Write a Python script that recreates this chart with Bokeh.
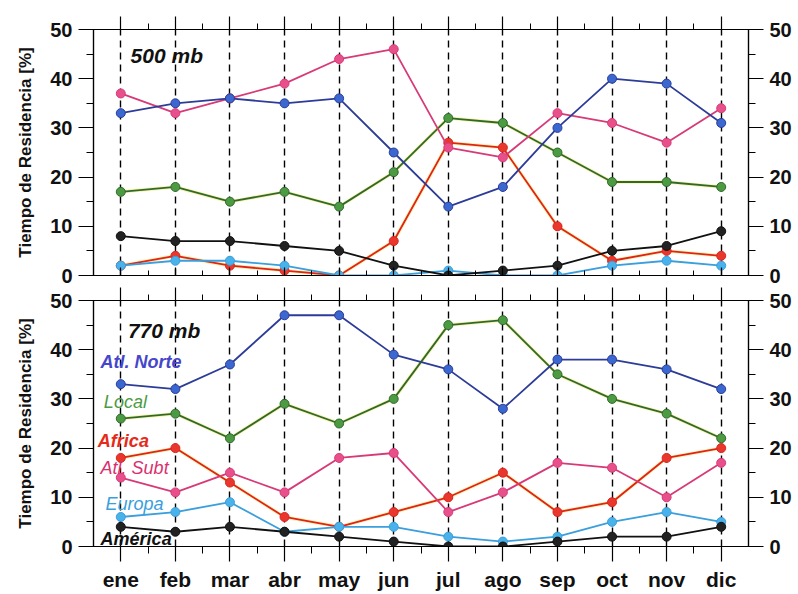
from bokeh.plotting import figure
from bokeh.layouts import column
from bokeh.models import Range1d, FixedTicker, LinearAxis, ColumnDataSource
from bokeh.core.properties import value
from bokeh.embed import file_html
from bokeh.resources import INLINE

# ---------------- data ----------------
months = ["ene", "feb", "mar", "abr", "may", "jun", "jul", "ago", "sep", "oct", "nov", "dic"]
series_names = ["Atl. Norte", "Local", "Africa", "Atl. Subt", "Europa", "América"]

# 500 mb
atl_norte_500 = [33, 35, 36, 35, 36, 25, 14, 18, 30, 40, 39, 31]
local_500     = [17, 18, 15, 17, 14, 21, 32, 31, 25, 19, 19, 18]
africa_500    = [2, 4, 2, 1, 0, 7, 27, 26, 10, 3, 5, 4]
atl_subt_500  = [37, 33, 36, 39, 44, 46, 26, 24, 33, 31, 27, 34]
europa_500    = [2, 3, 3, 2, 0, 0, 1, 0, 0, 2, 3, 2]
america_500   = [8, 7, 7, 6, 5, 2, 0, 1, 2, 5, 6, 9]

# 770 mb
atl_norte_770 = [33, 32, 37, 47, 47, 39, 36, 28, 38, 38, 36, 32]
local_770     = [26, 27, 22, 29, 25, 30, 45, 46, 35, 30, 27, 22]
africa_770    = [18, 20, 13, 6, 4, 7, 10, 15, 7, 9, 18, 20]
atl_subt_770  = [14, 11, 15, 11, 18, 19, 7, 11, 17, 16, 10, 17]
europa_770    = [6, 7, 9, 3, 4, 4, 2, 1, 2, 5, 7, 5]
america_770   = [4, 3, 4, 3, 2, 1, 0, 0, 1, 2, 2, 4]

y_ticks = [0, 10, 20, 30, 40, 50]

# ---------------- styles ----------------
line_colors = {"Atl. Norte": "#2c3c98", "Local": "#2f6a2c", "Africa": "#e0221a",
               "Atl. Subt": "#d83a78", "Europa": "#3a9fdc", "América": "#111111"}
mark_colors = {"Atl. Norte": "#3a68d0", "Local": "#4c9a42", "Africa": "#e8382e",
               "Atl. Subt": "#e8508c", "Europa": "#4ab2ea", "América": "#222222"}
halo = {"Local", "Africa"}
draw_order = ["Local", "Africa", "Atl. Subt", "Europa", "América", "Atl. Norte"]

label_colors = {"Atl. Norte": "#4646cc", "Local": "#4c9a42", "Africa": "#e62a1a",
                "Atl. Subt": "#d8306e", "Europa": "#3a9fdc", "América": "#111111"}
label_x = [-0.37, -0.31, -0.42, -0.37, -0.28, -0.37]
label_y = [37.4, 29.3, 21.5, 15.9, 8.7, 1.6]
label_style = ["bold italic", "italic", "bold italic", "italic", "italic", "bold italic"]

FONT = "Liberation Sans"
x = list(range(len(months)))


def style_xaxis(ax, labels):
    ax.ticker = FixedTicker(ticks=x, minor_ticks=[i + 0.5 for i in range(11)])
    ax.axis_line_color = "black"
    ax.axis_line_width = 1.2
    ax.major_tick_line_color = "black"
    ax.minor_tick_line_color = "black"
    ax.major_tick_line_width = 1.2
    if labels:
        ax.major_label_overrides = {i: m for i, m in enumerate(months)}
        ax.major_label_text_font = FONT
        ax.major_label_text_font_style = "bold"
        ax.major_label_text_font_size = "21px"
        ax.major_label_text_color = "#111111"
        ax.major_label_standoff = 6
    else:
        ax.major_label_text_color = None
        ax.major_label_standoff = 0


def style_yaxis(ax):
    ax.ticker = FixedTicker(ticks=y_ticks, minor_ticks=[5, 15, 25, 35, 45])
    ax.axis_line_color = "black"
    ax.axis_line_width = 1.2
    ax.major_tick_in = 0
    ax.major_tick_out = 15
    ax.minor_tick_in = 0
    ax.minor_tick_out = 7
    ax.major_tick_line_color = "black"
    ax.minor_tick_line_color = "black"
    ax.major_label_text_font = FONT
    ax.major_label_text_font_style = "bold"
    ax.major_label_text_font_size = "20px"
    ax.major_label_text_color = "#111111"
    ax.major_label_standoff = 6


def make_panel(data, title, title_x, title_y, height, top_border, bottom_border, bottom_labels, legend):
    p = figure(width=798, height=height, output_backend="svg", toolbar_location=None,
               x_range=Range1d(-0.5, 11.5), y_range=Range1d(0, 50),
               min_border_left=93, min_border_right=50,
               min_border_top=top_border, min_border_bottom=bottom_border)
    p.background_fill_color = "white"
    p.border_fill_color = "white"
    p.outline_line_color = "black"
    p.outline_line_width = 1.2

    # axes
    style_xaxis(p.xaxis[0], bottom_labels)
    if bottom_labels:
        p.xaxis[0].major_tick_out = 15
        p.xaxis[0].major_tick_in = 0
        p.xaxis[0].minor_tick_out = 7
        p.xaxis[0].minor_tick_in = 0
    else:
        p.xaxis[0].major_tick_out = 0
        p.xaxis[0].major_tick_in = 8
        p.xaxis[0].minor_tick_out = 0
        p.xaxis[0].minor_tick_in = 5
    top_ax = LinearAxis()
    style_xaxis(top_ax, False)
    top_ax.major_tick_out = 13
    top_ax.major_tick_in = 0
    top_ax.minor_tick_out = 6
    top_ax.minor_tick_in = 0
    p.add_layout(top_ax, "above")

    style_yaxis(p.yaxis[0])
    p.yaxis[0].axis_label = "Tiempo de Residencia [%]"
    p.yaxis[0].axis_label_text_font = FONT
    p.yaxis[0].axis_label_text_font_style = "bold"
    p.yaxis[0].axis_label_text_font_size = "17px"
    p.yaxis[0].axis_label_text_color = "#111111"
    p.yaxis[0].axis_label_standoff = 12
    right_ax = LinearAxis()
    style_yaxis(right_ax)
    p.add_layout(right_ax, "right")

    # grid: dashed verticals at months
    p.ygrid.grid_line_color = None
    p.xgrid.ticker = FixedTicker(ticks=x)
    p.xgrid.grid_line_color = "black"
    p.xgrid.grid_line_width = 1.4
    p.xgrid.grid_line_dash = "7 5"

    for name in draw_order:
        vals = data[name]
        if name in halo:
            p.line(x, vals, line_color="#f2e24a", line_width=3.5, line_alpha=0.45)
        p.line(x, vals, line_color=line_colors[name], line_width=1.8)
        p.scatter(x, vals, size=9, fill_color=mark_colors[name],
                  line_color=line_colors[name], line_width=1)

    p.text(x=[title_x], y=[title_y], text=[title],
           text_font=value(FONT), text_font_style="bold italic",
           text_font_size="21px", text_color="#111111",
           text_baseline="middle", text_align="left")

    if legend:
        src = ColumnDataSource(dict(x=label_x, y=label_y, t=series_names,
                                    c=[label_colors[n] for n in series_names],
                                    s=label_style))
        p.text(x="x", y="y", text="t", text_color="c", text_font_style="s",
               text_font=value(FONT), text_font_size="18px",
               text_baseline="middle", text_align="left", source=src)
    return p


data_500 = {"Atl. Norte": atl_norte_500, "Local": local_500, "Africa": africa_500,
            "Atl. Subt": atl_subt_500, "Europa": europa_500, "América": america_500}
data_770 = {"Atl. Norte": atl_norte_770, "Local": local_770, "Africa": africa_770,
            "Atl. Subt": atl_subt_770, "Europa": europa_770, "América": america_770}

p1 = make_panel(data_500, "500 mb", 0.18, 44.7, 286, 29, 11, False, False)
p2 = make_panel(data_770, "770 mb", 0.13, 43.9, 308, 14, 48, True, True)

layout = column(p1, p2, spacing=0)
open("out.html", "w").write(file_html(layout, INLINE))
